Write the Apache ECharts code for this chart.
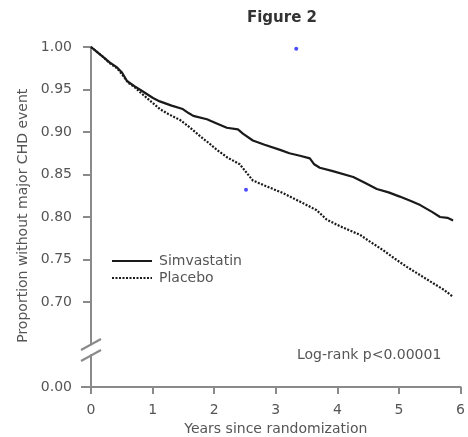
<!DOCTYPE html>
<html>
<head>
<meta charset="utf-8">
<script src="https://cdn.jsdelivr.net/npm/echarts@6/dist/echarts.min.js"></script>
<style>html,body{margin:0;padding:0;background:#fff}#c{width:468px;height:437px}</style>
</head>
<body>
<div id="c"></div>
<script>
const xTicks = [0, 1, 2, 3, 4, 5, 6];
const yTicks = [0.70, 0.75, 0.80, 0.85, 0.90, 0.95, 1.00];
const simvastatin = [[0,1.0],[0.1,0.994],[0.2,0.988],[0.3,0.982],[0.42,0.976],[0.5,0.97],[0.58,0.96],[0.7,0.954],[0.85,0.947],[1.0,0.940],[1.11,0.936],[1.3,0.931],[1.48,0.927],[1.58,0.922],[1.65,0.919],[1.87,0.915],[2.0,0.911],[2.19,0.905],[2.37,0.903],[2.45,0.898],[2.61,0.890],[2.8,0.885],[3.05,0.879],[3.2,0.875],[3.37,0.872],[3.53,0.869],[3.6,0.862],[3.69,0.858],[3.9,0.854],[4.23,0.847],[4.4,0.841],[4.61,0.833],[4.8,0.829],[4.98,0.824],[5.15,0.819],[5.31,0.814],[5.5,0.806],[5.63,0.800],[5.75,0.799],[5.84,0.796]];
const placebo = [[0,1.0],[0.1,0.994],[0.2,0.988],[0.3,0.981],[0.42,0.975],[0.5,0.968],[0.6,0.958],[0.7,0.953],[0.79,0.947],[0.95,0.937],[1.11,0.927],[1.25,0.921],[1.44,0.914],[1.6,0.905],[1.76,0.895],[1.9,0.887],[2.03,0.879],[2.2,0.870],[2.4,0.862],[2.5,0.853],[2.61,0.843],[2.8,0.837],[3.1,0.828],[3.4,0.817],[3.64,0.808],[3.8,0.797],[4.02,0.789],[4.34,0.779],[4.5,0.771],[4.71,0.761],[4.9,0.751],[5.1,0.741],[5.3,0.732],[5.52,0.722],[5.7,0.714],[5.84,0.706]];
const blueDots = [[3.31,0.998],[2.5,0.832]];

const F = '"DejaVu Sans", Verdana, sans-serif';
const axisGray = '#8a8a8a';
const labelColor = '#555';

const chart = echarts.init(document.getElementById('c'));
chart.setOption({
  animation: false,
  title: { text: 'Figure 2', left: 277, top: 6, textAlign: 'center',
    textStyle: { fontFamily: F, fontSize: 15, fontWeight: 'bold', color: '#333' } },
  legend: {
    data: ['Simvastatin', 'Placebo'], orient: 'vertical', left: 106, top: 249,
    itemWidth: 40, itemHeight: 10, itemGap: 3,
    itemStyle: { opacity: 0 },
    textStyle: { fontFamily: F, fontSize: 14, color: '#555', padding: [0, 0, 0, 2] }
  },
  grid: [
    { left: 91, top: 47, width: 372, height: 297.5 },
    { left: 91, top: 355, width: 372, height: 34 }
  ],
  xAxis: [
    { gridIndex: 0, type: 'value', min: 0, max: 6, show: false },
    { gridIndex: 1, type: 'value', min: 0, max: 6, interval: 1,
      name: 'Years since randomization', nameLocation: 'middle', nameGap: 35,
      nameTextStyle: { fontFamily: F, fontSize: 14, color: labelColor },
      axisLine: { lineStyle: { color: axisGray, width: 2 } },
      axisTick: { length: 7, customValues: xTicks, lineStyle: { color: axisGray, width: 2 } },
      axisLabel: { margin: 16, fontFamily: F, fontSize: 14, color: labelColor, customValues: xTicks },
      splitLine: { show: false } }
  ],
  yAxis: [
    { gridIndex: 0, type: 'value', min: 0.65, max: 1.0, interval: 0.05,
      name: 'Proportion without major CHD event', nameLocation: 'middle', nameGap: 61,
      nameTextStyle: { fontFamily: F, fontSize: 14, color: labelColor, padding: [0, 40, 0, 0] },
      axisLine: { show: true, onZero: false, lineStyle: { color: axisGray, width: 2 } },
      axisTick: { show: true, length: 8, customValues: yTicks, lineStyle: { color: axisGray, width: 2 } },
      axisLabel: { margin: 19, fontFamily: F, fontSize: 14, color: labelColor, customValues: yTicks,
        formatter: v => v.toFixed(2) },
      splitLine: { show: false } },
    { gridIndex: 1, type: 'value', min: 0, max: 0.04,
      axisLine: { show: true, onZero: false, lineStyle: { color: axisGray, width: 2 } },
      axisTick: { show: true, length: 10, customValues: [0], lineStyle: { color: axisGray, width: 2 } },
      axisLabel: { margin: 19, fontFamily: F, fontSize: 14, color: labelColor, customValues: [0],
        formatter: v => v.toFixed(2) },
      splitLine: { show: false } }
  ],
  graphic: [
    { type: 'line', shape: { x1: 81, y1: 350, x2: 101, y2: 339 }, style: { stroke: axisGray, lineWidth: 2 } },
    { type: 'line', shape: { x1: 81, y1: 361, x2: 101, y2: 350 }, style: { stroke: axisGray, lineWidth: 2 } },
    { type: 'text', left: 297, top: 348, style: { text: 'Log-rank p<0.00001', font: '14px "DejaVu Sans", Verdana, sans-serif', fill: '#555' } }
  ],
  series: [
    { name: 'Simvastatin', type: 'line', xAxisIndex: 0, yAxisIndex: 0, data: simvastatin,
      symbol: 'none', lineStyle: { color: '#1a1a1a', width: 2.2 }, itemStyle: { color: '#1a1a1a' } },
    { name: 'Placebo', type: 'line', xAxisIndex: 0, yAxisIndex: 0, data: placebo,
      symbol: 'none', lineStyle: { color: '#1a1a1a', width: 2.2, type: [2, 1.5] }, itemStyle: { color: '#1a1a1a' } },
    { name: 'dots', type: 'scatter', xAxisIndex: 0, yAxisIndex: 0, data: blueDots,
      symbolSize: 4, itemStyle: { color: '#2020ff' } }
  ]
});
</script>
</body>
</html>
